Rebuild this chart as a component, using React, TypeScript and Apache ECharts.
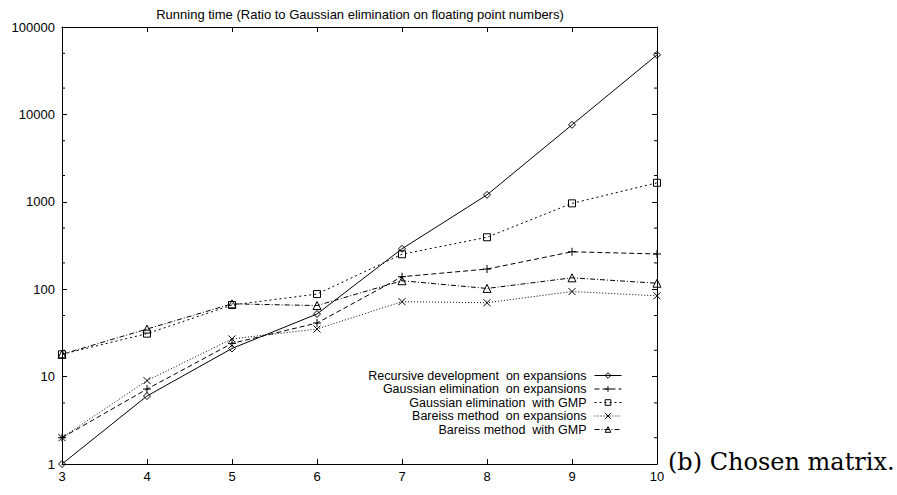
import React, { useEffect, useRef } from "react";
import * as echarts from "echarts";

const sizes = [3, 4, 5, 6, 7, 8, 9, 10];
const recursiveExp = [1, 6, 21, 52, 290, 1200, 7600, 48000];
const gaussExp = [2, 7.2, 24, 41, 139, 170, 268, 253];
const gaussGMP = [18, 31, 66, 88, 251, 393, 960, 1650];
const bareissExp = [2, 9, 27, 35, 72, 70, 94, 84];
const bareissGMP = [18, 35, 68, 65, 125, 102, 135, 117];
const yTickLabels = ["1", "10", "100", "1000", "10000", "100000"];
const minorTickValues = [2, 5, 20, 50, 200, 500, 2000, 5000, 20000, 50000];

const seriesNames = [
  "Recursive development  on expansions",
  "Gaussian elimination  on expansions",
  "Gaussian elimination  with GMP",
  "Bareiss method  on expansions",
  "Bareiss method  with GMP",
];

const FONT = "'Liberation Sans', Arial, Helvetica, sans-serif";

export default function App() {
  const ref = useRef<HTMLDivElement>(null);
  useEffect(() => {
    document.body.style.margin = "0";
    if (!ref.current) return;
    const chart = echarts.init(ref.current, undefined, { renderer: "svg" });
    const values = [recursiveExp, gaussExp, gaussGMP, bareissExp, bareissGMP];
    const symbols = [
      "diamond",
      "path://M0,5H10M5,0V10",
      "rect",
      "path://M0,0L10,10M10,0L0,10",
      "triangle",
    ];
    const symbolSizes = [7, 8, 7, 7, 8];
    const dashes: any[] = ["solid", [5, 3], [2, 3], [1, 2], [5, 2, 1, 2]];
    const xMin = sizes[0];
    const xMax = sizes[sizes.length - 1];

    const lineSeries = values.map((vals, i) => ({
      type: "line",
      name: seriesNames[i],
      data: sizes.map((x, j) => [x, vals[j]]),
      symbol: symbols[i],
      symbolSize: symbolSizes[i],
      showAllSymbol: true,
      lineStyle: { color: "#000", width: 1, type: dashes[i] },
      itemStyle: { color: "none", borderColor: "#000", borderWidth: 1 },
      emphasis: { disabled: true },
      z: 3,
    }));

    const rowCenters = [375, 388.5, 402, 415.5, 429];
    const legends = seriesNames.map((n, i) => ({
      data: [n],
      orient: "vertical",
      right: 275,
      top: rowCenters[i] - 6,
      align: "right",
      padding: 0,
      itemWidth: 27,
      itemHeight: 7,
      selectedMode: false,
      itemStyle: { color: "none", borderColor: "#000", borderWidth: 1 },
      lineStyle: { color: "#000", width: 1, type: dashes[i] },
      textStyle: {
        fontFamily: FONT,
        fontSize: 12.5,
        color: "#000",
        lineHeight: 12,
        padding: [0, 3, 0, 0],
      },
    }));

    const axisCommonX = {
      type: "value",
      min: xMin,
      max: xMax,
      interval: 1,
      splitLine: { show: false },
      axisLine: { lineStyle: { color: "#000", width: 1 } },
      axisTick: { inside: true, length: 5, lineStyle: { color: "#000" } },
    };
    const axisCommonY = {
      type: "log",
      logBase: 10,
      min: 1,
      max: 100000,
      splitLine: { show: false },
      axisLine: { lineStyle: { color: "#000", width: 1 } },
      axisTick: { inside: true, length: 5, lineStyle: { color: "#000" } },
    };

    chart.setOption({
      animation: false,
      title: {
        text: "Running time (Ratio to Gaussian elimination on floating point numbers)",
        left: 360,
        top: 8,
        textAlign: "center",
        padding: 0,
        textStyle: { fontFamily: FONT, fontSize: 13, fontWeight: "normal", color: "#000" },
      },
      legend: legends,
      grid: { left: 62, right: 240, top: 27, bottom: 31 },
      xAxis: [
        {
          ...axisCommonX,
          position: "bottom",
          axisLabel: { fontFamily: FONT, fontSize: 13, color: "#000", margin: 6 },
        },
        {
          ...axisCommonX,
          position: "top",
          axisLabel: { show: false },
        },
      ],
      yAxis: [
        {
          ...axisCommonY,
          position: "left",
          axisLabel: {
            fontFamily: FONT,
            fontSize: 13,
            color: "#000",
            margin: 7,
            formatter: (v: number) => yTickLabels[Math.round(Math.log10(v))] ?? String(v),
          },
        },
        {
          ...axisCommonY,
          position: "right",
          axisLabel: { show: false },
        },
      ],
      graphic: [
        {
          type: "text",
          x: 668,
          y: 462,
          style: {
            text: "(b) Chosen matrix.",
            fontFamily: "'DejaVu Serif', 'Liberation Serif', serif",
            fontSize: 24,
            fontWeight: "normal",
            fill: "#000",
            verticalAlign: "middle",
          },
        },
      ],
      series: [
        ...lineSeries,
        {
          type: "custom",
          name: "minorTicks",
          silent: true,
          xAxisIndex: 0,
          yAxisIndex: 0,
          data: minorTickValues.map((v) => [xMin, v]),
          encode: { x: 0, y: 1 },
          renderItem: (params: any, api: any) => {
            const v = api.value(1);
            const pl = api.coord([xMin, v]);
            const pr = api.coord([xMax, v]);
            return {
              type: "group",
              children: [
                {
                  type: "line",
                  shape: { x1: pl[0], y1: pl[1], x2: pl[0] + 3, y2: pl[1] },
                  style: { stroke: "#000", lineWidth: 1 },
                },
                {
                  type: "line",
                  shape: { x1: pr[0], y1: pr[1], x2: pr[0] - 3, y2: pr[1] },
                  style: { stroke: "#000", lineWidth: 1 },
                },
              ],
            };
          },
        },
      ],
    });
    return () => chart.dispose();
  }, []);
  return <div ref={ref} style={{ width: 897, height: 495 }} />;
}
